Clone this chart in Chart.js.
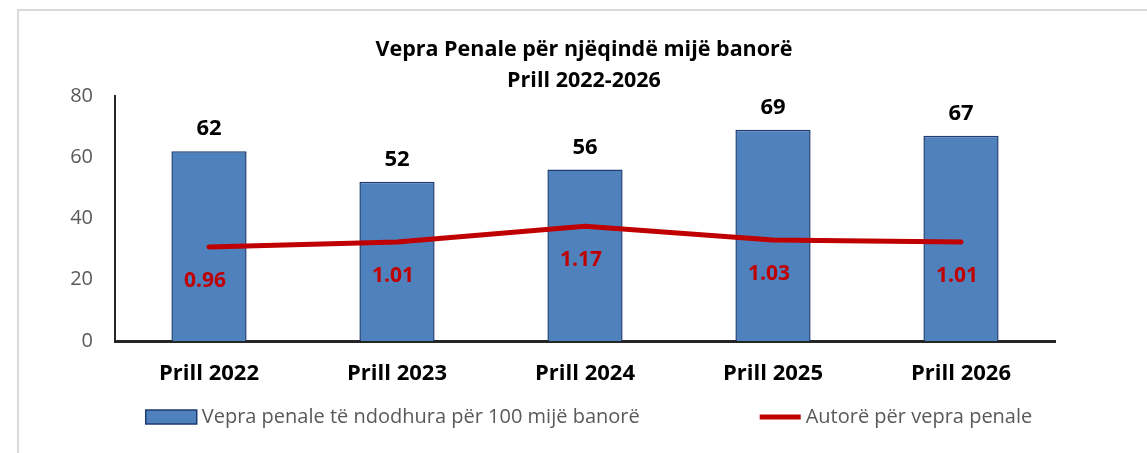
<!DOCTYPE html>
<html>
<head>
<meta charset="utf-8">
<script src="https://cdn.jsdelivr.net/npm/chart.js@4.4.1/dist/chart.umd.min.js"></script>
<style>
  body { margin: 0; background: #fff; }
  #frame { position: absolute; left: 17px; top: 9px; width: 1200px; height: 500px; border: 2px solid #d9d9d9; }
  #wrap { position: absolute; left: 0; top: 0; width: 1147px; height: 453px; }
</style>
</head>
<body>
<div id="frame"></div>
<div id="wrap"><canvas id="myChart" width="1147" height="453"></canvas></div>
<script>
// values
const categories = ['Prill 2022', 'Prill 2023', 'Prill 2024', 'Prill 2025', 'Prill 2026']
const crimesPer100k = [62, 52, 56, 69, 67]
const authorsPerCrime = [0.96, 1.01, 1.17, 1.03, 1.01]
const yTicks = [0, 20, 40, 60, 80]
const titleLines = ['Vepra Penale për njëqindë mijë banorë', 'Prill 2022-2026']

const FONT = '"Open Sans", sans-serif'
const BLUE = '#4f81bd'
const BLUE_EDGE = '#1f3b70'
const RED = '#c00000'

// title + value labels + legend, drawn by hand
const extras = {
    id: 'extras',
    afterDatasetsDraw(chart) {
        const ctx = chart.ctx
        ctx.save()
        ctx.textAlign = 'center'
        ctx.textBaseline = 'middle'
        ctx.font = 'bold 22px ' + FONT
        ctx.fillStyle = '#000'
        chart.getDatasetMeta(0).data.forEach((bar, i) => {
            ctx.fillText(crimesPer100k[i], bar.x, bar.y - 22)
        })
        ctx.font = 'bold 21px ' + FONT
        ctx.fillStyle = RED
        chart.getDatasetMeta(1).data.forEach((pt, i) => {
            ctx.fillText(authorsPerCrime[i].toFixed(2), pt.x - 4, pt.y + 34)
        })

        // title
        ctx.fillStyle = '#000'
        ctx.font = 'bold 21.5px ' + FONT
        ctx.fillText(titleLines[0], 584, 50)
        ctx.fillText(titleLines[1], 584, 81)

        // legend
        ctx.font = '20px ' + FONT
        const t1 = chart.data.datasets[0].label
        const t2 = chart.data.datasets[1].label
        const w1 = ctx.measureText(t1).width
        const w2 = ctx.measureText(t2).width
        const total = 51 + 5 + w1 + 120 + 41 + 5 + w2
        let x = 589 - total / 2
        const y = 417
        ctx.fillStyle = BLUE
        ctx.strokeStyle = BLUE_EDGE
        ctx.lineWidth = 1.5
        ctx.fillRect(x, y - 7, 51, 14)
        ctx.strokeRect(x, y - 7, 51, 14)
        x += 56
        ctx.textAlign = 'left'
        ctx.fillStyle = '#595959'
        ctx.fillText(t1, x, y)
        x += w1 + 120
        ctx.strokeStyle = RED
        ctx.lineWidth = 5
        ctx.beginPath()
        ctx.moveTo(x, y)
        ctx.lineTo(x + 41, y)
        ctx.stroke()
        x += 46
        ctx.fillText(t2, x, y)
        ctx.restore()
    }
}

const ctx = document.getElementById('myChart')
const myChart = new Chart(ctx, {
    type: 'bar',
    data: {
        labels: categories,
        datasets: [
            {
                label: 'Vepra penale të ndodhura për 100 mijë banorë',
                data: crimesPer100k,
                backgroundColor: BLUE,
                borderColor: BLUE_EDGE,
                borderWidth: 1.5,
                barPercentage: 0.4,
                categoryPercentage: 1,
                yAxisID: 'y',
                order: 2
            },
            {
                type: 'line',
                label: 'Autorë për vepra penale',
                data: authorsPerCrime,
                borderColor: RED,
                backgroundColor: RED,
                borderWidth: 5,
                pointRadius: 0,
                tension: 0,
                borderJoinStyle: 'round',
                borderCapStyle: 'round',
                yAxisID: 'y1',
                order: 1
            }
        ]
    },
    options: {
        responsive: false,
        animation: false,
        layout: { padding: { left: 55, right: 92, top: 96, bottom: 72 } },
        plugins: {
            legend: { display: false },
            title: { display: false },
            tooltip: { enabled: false }
        },
        scales: {
            x: {
                grid: { display: false, drawTicks: false },
                border: { display: true, color: '#262626', width: 3 },
                ticks: { color: '#000', font: { family: FONT, size: 22, weight: 'bold' }, padding: 20 },
                afterFit: (scale) => { scale.height = 40 }
            },
            y: {
                min: 0,
                max: 80,
                afterBuildTicks: (scale) => { scale.ticks = yTicks.map(v => ({ value: v })) },
                grid: { display: false, drawTicks: false },
                border: { display: true, color: '#262626', width: 2 },
                ticks: { color: '#595959', font: { family: FONT, size: 20 }, padding: 22 },
                afterFit: (scale) => { scale.width = 60 }
            },
            y1: {
                display: false,
                min: 0,
                max: 2.5
            }
        }
    },
    plugins: [extras]
})
</script>
</body>
</html>
